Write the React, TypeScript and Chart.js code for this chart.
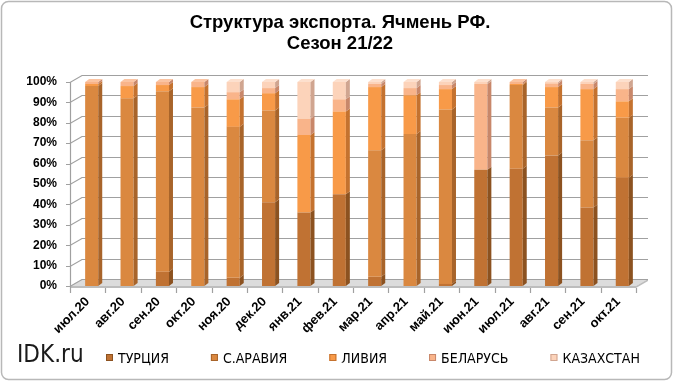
import React, { useEffect, useRef } from 'react';
import { Chart, registerables } from 'chart.js';

Chart.register(...registerables);

const titleLines = ['Структура экспорта. Ячмень РФ.', 'Сезон 21/22'];
const watermark = 'IDK.ru';
const categories = ['июл.20', 'авг.20', 'сен.20', 'окт.20', 'ноя.20', 'дек.20', 'янв.21', 'фев.21', 'мар.21', 'апр.21', 'май.21', 'июн.21', 'июл.21', 'авг.21', 'сен.21', 'окт.21'];
const seriesNames = ['ТУРЦИЯ', 'С.АРАВИЯ', 'ЛИВИЯ', 'БЕЛАРУСЬ', 'КАЗАХСТАН'];
const turkey = [0, 0, 7, 0, 4, 41, 36, 45, 4.5, 0, 1, 57, 57.5, 64, 38.5, 53];
const saudi = [98, 92, 88.5, 87.5, 74, 45, 0, 0, 62, 74.5, 85.5, 0, 41, 23.5, 33, 29.5];
const libya = [1, 6, 3, 10, 13.5, 8.5, 38, 40.5, 31, 19, 10, 0, 0.5, 10, 25, 8];
const belarus = [1, 2, 1.5, 2.5, 3.5, 2.5, 8, 6, 1.5, 3.5, 2, 42, 1, 1.8, 2.5, 6];
const kazakhstan = [0, 0, 0, 0, 5, 3, 18, 8.5, 1, 3, 1.5, 1, 0, 0.7, 1, 3.5];
const yMax = 100;
const yStep = 10;

const frontColors = ['#C07233', '#DA8840', '#F89A48', '#F9B48A', '#FCD3BA'];
const sideColors = ['#8C5220', '#A8642A', '#C4722F', '#C8876A', '#D0A590'];
const topColors = ['#CF8444', '#E59A55', '#FAAE6C', '#FBC4A2', '#FDE0CE'];

const FONT = '"Liberation Sans", Arial, sans-serif';
const NARROW = '"Liberation Sans Narrow", "Arial Narrow", "DejaVu Sans Condensed", sans-serif';

const DX = 12, DY = 7; // wall depth
const BDX = 4, BDY = 3; // bar depth
const SHIFT = 4;

function poly(ctx: CanvasRenderingContext2D, pts: number[][]) {
  ctx.beginPath();
  ctx.moveTo(pts[0][0], pts[0][1]);
  for (let i = 1; i < pts.length; i++) ctx.lineTo(pts[i][0], pts[i][1]);
  ctx.closePath();
}

const deco = {
  id: 'deco3d',
  beforeDraw(chart: any) {
    const { ctx, width, height } = chart;
    ctx.save();
    ctx.fillStyle = '#ffffff';
    ctx.fillRect(0, 0, width, height);
    ctx.strokeStyle = '#b8b8b8';
    ctx.lineWidth = 1.5;
    ctx.beginPath();
    (ctx as any).roundRect(1.5, 1.5, 670, 378, 7);
    ctx.stroke();
    ctx.restore();
  },
  beforeDatasetsDraw(chart: any) {
    const { ctx, chartArea: a, scales } = chart;
    const y = scales.y;
    const b = y.getPixelForValue(0);
    ctx.save();
    // floor
    poly(ctx, [[a.left, b], [a.right, b], [a.right + DX, b - DY], [a.left + DX, b - DY]]);
    ctx.fillStyle = '#dcdcdc';
    ctx.fill();
    ctx.fillStyle = '#bdbdbd';
    poly(ctx, [[a.left, b], [a.right, b], [a.right, b + 2], [a.left, b + 2]]);
    ctx.fill();
    poly(ctx, [[a.right, b], [a.right + DX, b - DY], [a.right + DX, b - DY + 2], [a.right, b + 2]]);
    ctx.fill();
    // grid on walls
    ctx.strokeStyle = '#a0a0a0';
    ctx.lineWidth = 1.2;
    for (let v = 0; v <= yMax; v += yStep) {
      const py = Math.round(y.getPixelForValue(v)) + 0.5;
      ctx.beginPath();
      ctx.moveTo(a.left - 4, py);
      ctx.lineTo(a.left, py);
      ctx.lineTo(a.left + DX, py - DY);
      ctx.lineTo(a.right + DX, py - DY);
      ctx.stroke();
    }
    // left axis line
    ctx.beginPath();
    ctx.moveTo(a.left + 0.5, y.getPixelForValue(yMax));
    ctx.lineTo(a.left + 0.5, b + 2);
    ctx.stroke();
    // category boundary ticks
    const n = categories.length;
    for (let i = 0; i <= n; i++) {
      const px = Math.round(a.left + (i * (a.right - a.left)) / n) + 0.5;
      ctx.beginPath();
      ctx.moveTo(px, b + 2);
      ctx.lineTo(px, b + 7);
      ctx.stroke();
    }
    ctx.restore();
    ctx.save();
    ctx.translate(SHIFT, 0);
  },
  afterDatasetsDraw(chart: any) {
    const { ctx } = chart;
    const datasets = chart.data.datasets;
    const n = categories.length;
    for (let i = 0; i < n; i++) {
      let topIdx = -1;
      for (let d = 0; d < datasets.length; d++) {
        const el = chart.getDatasetMeta(d).data[i];
        const p = el.getProps(['x', 'y', 'base', 'width'], true);
        if (Math.abs(p.base - p.y) < 0.3) continue;
        topIdx = d;
        const r = p.x + p.width / 2;
        poly(ctx, [[r, p.y], [r + BDX, p.y - BDY], [r + BDX, p.base - BDY], [r, p.base]]);
        ctx.fillStyle = sideColors[d];
        ctx.fill();
      }
      if (topIdx >= 0) {
        const el = chart.getDatasetMeta(topIdx).data[i];
        const p = el.getProps(['x', 'y', 'base', 'width'], true);
        const l = p.x - p.width / 2;
        const r = p.x + p.width / 2;
        poly(ctx, [[l, p.y], [l + BDX, p.y - BDY], [r + BDX, p.y - BDY], [r, p.y]]);
        ctx.fillStyle = topColors[topIdx];
        ctx.fill();
      }
    }
    ctx.restore();
  },
  afterDraw(chart: any) {
    const { ctx } = chart;
    ctx.save();
    // watermark
    ctx.fillStyle = '#1a1a1a';
    ctx.font = '24px ' + NARROW;
    ctx.textBaseline = 'alphabetic';
    ctx.textAlign = 'left';
    ctx.fillText(watermark, 17, 362);
    // legend
    ctx.font = '14px ' + NARROW;
    ctx.textBaseline = 'middle';
    let x = 106;
    const yc = 358;
    chart.data.datasets.forEach((ds: any, d: number) => {
      ctx.fillStyle = frontColors[d];
      ctx.fillRect(x, yc - 4, 7, 7);
      ctx.strokeStyle = sideColors[d];
      ctx.lineWidth = 1;
      ctx.strokeRect(x + 0.5, yc - 3.5, 6, 6);
      ctx.fillStyle = '#000';
      ctx.fillText(ds.label, x + 12, yc + 1);
      x += 12 + ctx.measureText(ds.label).width + 42;
    });
    ctx.restore();
  },
};

export default function App() {
  const ref = useRef<HTMLCanvasElement>(null);
  useEffect(() => {
    const series = [turkey, saudi, libya, belarus, kazakhstan];
    const chart = new Chart(ref.current as HTMLCanvasElement, {
      type: 'bar',
      data: {
        labels: categories,
        datasets: series.map((data, d) => ({
          label: seriesNames[d],
          data,
          backgroundColor: frontColors[d],
          borderWidth: 0,
          barPercentage: 0.37,
          categoryPercentage: 1,
        })),
      },
      options: {
        responsive: false,
        animation: false,
        layout: { padding: { left: 0, right: 0, top: 0, bottom: 0 } },
        plugins: {
          legend: { display: false },
          tooltip: { enabled: false },
          title: {
            display: true,
            text: titleLines,
            color: '#000',
            font: { family: FONT, size: 18.5, weight: 'bold', lineHeight: 1.14 },
            padding: { top: 12.5, bottom: 27.3 },
          },
        },
        scales: {
          x: {
            stacked: true,
            grid: { display: false, drawTicks: false },
            border: { display: false },
            ticks: {
              color: '#000',
              font: { family: FONT, size: 13, weight: 'bold' },
              minRotation: 45,
              maxRotation: 45,
              autoSkip: false,
              padding: 8,
            },
            afterFit: (s: any) => { s.height = 98; },
          },
          y: {
            stacked: true,
            min: 0,
            max: yMax,
            grid: { display: false, drawTicks: false },
            border: { display: false },
            ticks: {
              stepSize: yStep,
              color: '#000',
              font: { family: FONT, size: 12, weight: 'bold' },
              padding: 13,
              callback: (v: any) => v + '%',
            },
            afterFit: (s: any) => { s.width = 70; },
          },
          spacer: {
            type: 'linear',
            position: 'right',
            display: true,
            grid: { display: false, drawTicks: false },
            border: { display: false },
            ticks: { display: false },
            afterFit: (s: any) => { s.width = 44; },
          },
        },
      },
      plugins: [deco],
    });
    return () => chart.destroy();
  }, []);
  return (
    <div style={{ position: 'fixed', left: 0, top: 0, width: 680, height: 384, background: '#fff' }}>
      <canvas ref={ref} width={680} height={384} style={{ display: 'block', width: 680, height: 384 }} />
    </div>
  );
}
